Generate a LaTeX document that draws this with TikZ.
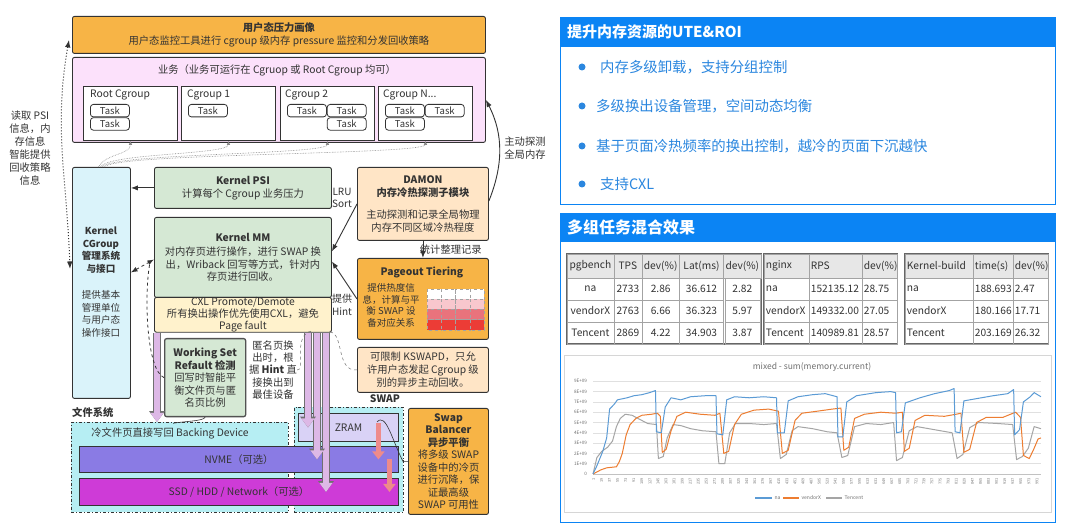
\documentclass[tikz,border=0pt]{standalone}
\usepackage{fontspec}
\setmainfont{Noto Sans CJK SC}
\usetikzlibrary{arrows.meta,positioning,calc,matrix}
\definecolor{ink}{HTML}{333333}
\definecolor{orng}{HTML}{F7B446}
\definecolor{biz}{HTML}{FCE1FB}
\definecolor{cgcyan}{HTML}{DAF3FA}
\definecolor{kgreen}{HTML}{D5E8D4}
\definecolor{cxl}{HTML}{FFF2CC}
\definecolor{peach}{HTML}{FFE5C6}
\definecolor{fscyan}{HTML}{B6EEF3}
\definecolor{nvme}{HTML}{8A7BE4}
\definecolor{ssd}{HTML}{CE3BD7}
\definecolor{zram}{HTML}{D9D2F6}
\definecolor{lav}{HTML}{DDB8E6}
\definecolor{salmon}{HTML}{EE8B8B}
\definecolor{heatlo}{HTML}{F8C7CD}
\definecolor{heatmid}{HTML}{E9737C}
\definecolor{heathi}{HTML}{EC3C36}
\definecolor{hdblue}{HTML}{0B84F4}
\definecolor{txblue}{HTML}{2B87DF}
\definecolor{thgray}{HTML}{E7E7E7}
\definecolor{serna}{HTML}{5B9BD5}
\definecolor{servx}{HTML}{ED7D31}
\definecolor{sertc}{HTML}{A5A5A5}
\newcommand{\fsz}[2]{\fontsize{#1}{#2}\selectfont}
\tikzset{
  >=Latex,
  every node/.style={font=\fsz{10.3}{13},text=ink,inner sep=0pt},
  box/.style={draw=ink,line width=0.9pt,rounded corners=2pt,anchor=north west,align=center},
  orngbox/.style={box,fill=orng},
  peachbox/.style={box,fill=peach},
  greenbox/.style={box,fill=kgreen},
  grpbox/.style={draw=ink,line width=0.9pt,fill=white,anchor=north west,minimum width=94,minimum height=54},
  taskbox/.style={draw=ink,line width=0.8pt,rounded corners=3pt,fill=white,anchor=north west,minimum width=39,minimum height=12.5,font=\fsz{9.5}{10}},
  devbox/.style={draw=ink,line width=0.9pt,anchor=north west,minimum width=319},
  dashbox/.style={draw=ink,line width=0.9pt,dash dot,fill=fscyan,anchor=north west},
  txt/.style={align=center},
  arrow/.style={->,line width=0.9pt,draw=ink},
  dasharr/.style={line width=0.8pt,draw=ink,dashed},
  thindash/.style={line width=0.5pt,draw=ink!70,dashed},
  dotarr/.style={<->,line width=1pt,draw=ink,dotted},
  taskdot/.style={-{Latex[length=4pt,width=3.5pt]},line width=0.6pt,draw=ink!60,densely dotted},
  fatarr/.style={draw=lav,line width=6.4pt,-{Triangle[length=9pt,width=12.5pt]},
    preaction={draw=ink!70,line width=8pt,-{Triangle[length=10.8pt,width=15pt]}}},
  sinkarr/.style={draw=salmon,line width=5pt,-{Triangle[length=8pt,width=12pt]}},
  hdbox/.style={draw=hdblue,fill=hdblue,line width=1.2pt,anchor=north west,minimum width=495},
  panel/.style={draw=hdblue,fill=white,line width=1.2pt,anchor=north west,minimum width=495},
  hdtext/.style={anchor=west,text=white,font=\fsz{15}{16}\bfseries},
  bul/.style={circle,fill=txblue,minimum size=7},
  bultext/.style={anchor=west,text=txblue,font=\fsz{14.4}{16}},
  cell/.style={draw=ink!45,line width=0.5pt,minimum height=22,inner xsep=2pt,font=\fsz{10.2}{12},anchor=center},
  tbl/.style={matrix of nodes,anchor=north west,draw=ink!75,line width=1.3pt,inner sep=0pt,
    column sep=-0.5pt,row sep=-0.5pt,nodes={cell},
    row 1/.style={nodes={fill=thgray,minimum height=24}}},
  lcol/.style={nodes={text width=#1,align=left}},
  ylab/.style={anchor=east,font=\fsz{4.6}{5},text=ink!70},
  xlab/.style={rotate=90,anchor=east,font=\fsz{3.8}{4},text=ink!70},
  lgd/.style={font=\fsz{5}{6},text=ink!70},
}
\begin{document}
\begin{tikzpicture}[x=1pt,y=-1pt]
\fill[white] (0,0) rectangle (1080,526);
\useasboundingbox (0,0) rectangle (1080,526);

% user space
\node[orngbox,minimum width=413,minimum height=37] (portrait) at (72,16) {\textbf{用户态压力画像}\\用户态监控工具进行 cgroup 级内存 pressure 监控和分发回收策略};
\node[box,fill=biz,minimum width=413,minimum height=85] (biz) at (72,57) {};
\node[txt] (biztitle) at (277,70) {业务（业务可运行在 Cgruop 或 Root Cgroup 均可）};

\node[grpbox] (root) at (83,86) {};
\node[grpbox] (cg1) at (181,86) {};
\node[grpbox] (cg2) at (280,86) {};
\node[grpbox] (cgn) at (378,86) {};
\node[below right=4pt and 7pt of root.north west] (rootlbl) {Root Cgroup};
\node[below right=4pt and 6pt of cg1.north west] (cg1lbl) {Cgroup 1};
\node[below right=4pt and 5pt of cg2.north west] (cg2lbl) {Cgroup 2};
\node[below right=4pt and 5pt of cgn.north west] (cgnlbl) {Cgroup N...};

\node[taskbox] (rt1) at (90,104) {Task};
\node[taskbox,below=0pt of rt1] (rt2) {Task};
\node[taskbox] (c1t1) at (188,104) {Task};
\node[taskbox] (c2t1) at (287,104) {Task};
\node[taskbox,right=0pt of c2t1] (c2t2) {Task};
\node[taskbox,below=0pt of c2t2] (c2t3) {Task};
\node[taskbox] (cnt1) at (385,104) {Task};
\node[taskbox,right=0pt of cnt1] (cnt2) {Task};
\node[taskbox,below=0pt of cnt1] (cnt3) {Task};

% kernel side
\node[box,fill=cgcyan,minimum width=58,minimum height=231] (cgsys) at (72,167) {};
\node[txt,font=\fsz{9.6}{12.5}\bfseries] (cgtitle) at (101,250) {Kernel\\CGroup\\管理系统\\与接口};
\node[txt,font=\fsz{9.6}{12.6}] (cgnote) at (101,314) {提供基本\\管理单位\\与用户态\\操作接口};

\node[greenbox,minimum width=177,minimum height=41] (psi) at (154,167) {\textbf{Kernel PSI}\\计算每个 Cgroup 业务压力};
\node[greenbox,minimum width=177,minimum height=80,font=\fsz{10.3}{12.5}] (mm) at (154,217) {\textbf{Kernel MM}\\[2pt]对内存页进行操作，进行 SWAP 换\\出，Wriback 回写等方式，针对内\\存页进行回收。};
\node[box,fill=cxl,minimum width=177,minimum height=33,font=\fsz{10.3}{12}] (cxl) at (154,297) {CXL Promote/Demote\\所有换出操作优先使用CXL，避免\\Page fault};

\node[peachbox,minimum width=131,minimum height=73] (damon) at (357,167) {\textbf{DAMON}\\\textbf{内存冷热探测子模块}\\[9pt]主动探测和记录全局物理\\内存不同区域冷热程度};
\node[orngbox,minimum width=131,minimum height=81] (pageout) at (357,258) {};
\node[font=\fsz{10.3}{12}\bfseries] (pgtitle) at (422,272) {Pageout Tiering};
\node[txt,font=\fsz{9.5}{11.7}] (pgnote) at (391,305.5) {提供热度信\\息，计算与平\\衡 SWAP 设\\备对应关系};
\foreach \r/\c in {0/white,1/heatlo,2/heatmid,3/heathi}
  \foreach \k in {0,...,3}
    \draw[fill=\c,draw=ink!45,dashed,line width=0.5pt] ({427+14.25*\k},{289+10.25*\r}) rectangle ++(14.25,10.25);
\node[peachbox,minimum width=131,minimum height=45,font=\fsz{10.3}{13}] (kswapd) at (357,347) {可限制 KSWAPD，只允\\许用户态发起 Cgroup 级\\别的异步主动回收。};

\node[txt] (psiread) at (30,148) {读取 PSI\\信息，内\\存信息\\智能提供\\回收策略\\信息};
\node[txt,font=\fsz{10}{12.5}] (lru) at (342,198) {LRU\\Sort};
\node[txt,font=\fsz{10}{13}] (hintlbl) at (342,305) {提供\\Hint};
\node[txt] (probe) at (525,148) {主动探测\\全局内存};

% devices
\node[anchor=west,font=\fsz{10.3}{12}\bfseries] (fslbl) at (72,413) {文件系统};
\node[dashbox,minimum width=217,minimum height=90] (fs) at (71,422) {};
\node[dashbox,minimum width=109,minimum height=105] (swap) at (294,407) {};
\node[font=\fsz{10.3}{12}\bfseries] (swaplbl) at (385,399) {SWAP};
\node (fstext) at (170,433) {冷文件页直接写回 Backing Device};
\node[devbox,fill=nvme,minimum height=26] (nvme) at (79,446) {NVME（可选）};
\node[devbox,fill=ssd,minimum height=27] (ssd) at (79,478) {SSD / HDD / Network（可选）};
\node[draw=ink,line width=0.9pt,fill=zram,anchor=north west,minimum width=100,minimum height=28] (zram) at (298,413) {ZRAM};

\node[greenbox,line width=1.3pt,draw=ink!85,minimum width=81,minimum height=78,font=\fsz{10.3}{12.5}] (ws) at (164,338) {\textbf{Working Set}\\\textbf{Refault 检测}\\回写时智能平\\衡文件页与匿\\名页比例};
\node[txt,font=\fsz{10.3}{12.3}] (hint) at (273,370) {匿名页换\\出时，根\\据 \textbf{Hint} 直\\接换出到\\最佳设备};
\node[orngbox,minimum width=80,minimum height=106,font=\fsz{10.3}{12.5}] (balancer) at (408,408) {\textbf{Swap}\\\textbf{Balancer}\\\textbf{异步平衡}\\将多级 SWAP\\设备中的冷页\\进行沉降，保\\证最高级\\SWAP 可用性};

% connectors
\draw[fatarr] (157,0 |- cxl.south) -- (157,0 |- fs.north);
\draw[fatarr] (326,0 |- cxl.south) -- (326,0 |- ssd.center);
\draw[fatarr] (317,0 |- cxl.south) -- (317,0 |- nvme.center);
\draw[fatarr] (308,0 |- cxl.south) -- (308,0 |- zram.center);
\draw[sinkarr] ($(zram.north)+(30,10)$) -- ($(nvme.center)+(139.5,0)$);
\draw[sinkarr] ($(nvme.north)+(150.5,13)$) -- ($(ssd.center)+(150.5,0)$);
\draw[line width=0.6pt,ink] (balancer.west) -- ++(-5,0) .. controls (392,440) and (386,412) .. (377,422);
\draw[line width=0.6pt,ink] (ws.south) .. controls +(-2,4) and +(10,-2) .. ($(ws.south)+(-32,6)$);

\draw[arrow] (psi.west) -- (psi.west -| cgsys.east);
\draw[arrow] (damon.west) -- ([yshift=6pt]mm.east);
\draw[arrow] (pageout.west) -- ([yshift=-4pt]mm.east);
\draw[arrow] (damon) -- node[anchor=west,xshift=-3.5pt] (stat) {统计整理记录} (pageout);
\draw[arrow] ([yshift=3pt]damon.east) .. controls +(14,-35) and +(18,35) .. (biz.east);

\draw[dotarr] ([xshift=-3pt,yshift=-5pt]portrait.west) to[out=-100,in=92] ([xshift=-2pt,yshift=14pt]cgsys.west);
\foreach \g/\dx in {root/-3,cg1/-1,cg2/1,cgn/3}
  \draw[taskdot] ([xshift=\dx pt]cgsys.north) .. controls +(8,-14) and +(0,14) .. (\g.south);
\draw[dasharr,<->] ([yshift=10.5pt]cgsys.east) -- ([yshift=-2pt]mm.west);
\draw[dasharr] (ws.west) .. controls +(-18,-8) and +(-6,30) .. ([xshift=-4pt,yshift=-5pt]mm.west);
\draw[thindash] (hint.east) .. controls (306,372) and (292,334) .. (312,331);
\draw[thindash] (kswapd.west) .. controls (336,372) and (344,333) .. (330,332);

% right panels
\node[panel,minimum height=158] (uteb) at (560,46) {};
\node[hdbox,minimum height=29] (uteh) at (560,17) {};
\node[hdtext] (utetitle) at (567,31.5) {提升内存资源的UTE\&ROI};
\node[bul] (d1) at (582,67) {};
\node[bultext] (t1) at (600,67) {内存多级卸载，支持分组控制};
\node[bul] (d2) at (582,106) {};
\node[bultext] (t2) at (596,106) {多级换出设备管理，空间动态均衡};
\node[bul] (d3) at (582,146) {};
\node[bultext] (t3) at (596,146) {基于页面冷热频率的换出控制，越冷的页面下沉越快};
\node[bul] (d4) at (582,184) {};
\node[bultext] (t4) at (600,184) {支持CXL};

\node[panel,minimum height=281] (mixb) at (560,241) {};
\node[hdbox,minimum height=28] (mixh) at (560,213) {};
\node[hdtext,font=\fsz{16}{18}\bfseries] (mixtitle) at (567,227) {多组任务混合效果};

\matrix[tbl,column 1/.style={nodes={minimum width=47}},column 2/.style={nodes={minimum width=28}},
  column 3/.style={nodes={minimum width=37}},column 4/.style={nodes={minimum width=44}},
  column 5/.style={nodes={minimum width=35}}] (pg) at (566,253) {
pgbench & TPS & dev(\%) & Lat(ms) & dev(\%) \\
na & 2733 & 2.86 & 36.612 & 2.82 \\
vendorX & 2763 & 6.66 & 36.323 & 5.97 \\
Tencent & 2869 & 4.22 & 34.903 & 3.87 \\
};
\matrix[tbl,column 1/.style={lcol=41},column 2/.style={lcol=49},column 3/.style={lcol=31}] (ngx) at (763,253) {
nginx & RPS & dev(\%) \\
na & 152135.12 & 28.75 \\
vendorX & 149332.00 & 27.05 \\
Tencent & 140989.81 & 28.57 \\
};
\matrix[tbl,column 1/.style={lcol=64},column 2/.style={lcol=36},column 3/.style={lcol=31}] (kb) at (904,253) {
Kernel-build & time(s) & dev(\%) \\
na & 188.693 & 2.47 \\
vendorX & 180.166 & 17.71 \\
Tencent & 203.169 & 26.32 \\
};

% memory chart
\node[draw=ink!20,line width=0.6pt,anchor=north west,minimum width=487,minimum height=157] (chart) at (564,355) {};
\node[text=ink!70,font=\fsz{8.5}{10}] (charttitle) at (812,367) {mixed - sum(memory.current)};
\begin{scope}[shift={(593,474)},x=0.976pt,y=10.3pt]
\foreach \v in {1,...,9} {
  \draw[ink!15,line width=0.4pt] (0,\v) -- (459,\v);
  \node[ylab] (ytick\v) at (-6,\v) {\v E+09};
}
\draw[ink!30,line width=0.5pt] (0,0) -- (459,0);
\node[ylab] (ytick0) at (-6,0) {0};
\foreach \k in {0,...,55} {
  \pgfmathtruncatemacro\lab{1+18*\k}
  \node[xlab] (xt\k) at ({\lab*0.459},-0.4) {\lab};
}
\draw[sertc,line width=1pt,line join=round] plot coordinates {(0,0) (4,1.6) (9,2.2) (15,2.6) (20,3.2) (24,4.6) (28,5.4) (33,5.8) (40,5.7) (48,5.3) (56,4.9) (65,4.8) (67,1.5) (72,1.7) (76,3.5) (82,4.8) (90,4.7) (100,4.4) (112,4.2) (126,4.1) (129,1) (135,1) (140,4) (146,4.9) (160,4.9) (175,4.8) (188,4.9) (192,1.5) (198,1.9) (204,4.2) (210,4.6) (225,4.4) (240,4.1) (250,4) (255,1.6) (261,1.8) (268,4.6) (280,4.9) (295,4.8) (308,5) (311,1.3) (317,1.6) (324,4.2) (332,4.6) (350,4.3) (368,4) (373,1.5) (379,1.9) (386,4.5) (395,5) (415,4.9) (430,4.8) (434,1.4) (440,1.7) (446,2.5) (452,4.6) (459,4.4)};
\draw[servx,line width=1pt,line join=round] plot coordinates {(0,0) (8,0.4) (14,0.6) (24,0.7) (27,1.2) (30,2) (34,3.8) (38,4.8) (44,5.4) (50,5.7) (60,5.8) (66,5.9) (69,5.6) (71,2.1) (75,2.4) (80,4.2) (86,5.6) (95,6) (110,5.8) (125,5.7) (130,5.9) (134,2) (139,2.2) (145,4.8) (152,5.8) (165,6.2) (180,6.3) (190,6.1) (194,2) (200,2.3) (207,5.2) (214,5.9) (230,6.1) (245,6.3) (254,6.4) (257,2.3) (262,2.6) (268,5.4) (278,5.8) (295,6) (310,5.9) (317,6) (319,2.2) (324,2.5) (330,5.2) (340,5.7) (360,5.6) (372,5.8) (377,5.9) (380,2.1) (386,2.4) (393,5) (403,5.5) (420,5.5) (433,6) (438,5.5) (441,1.8) (447,1.5) (452,2.5) (456,3.4) (459,3.5)};
\draw[serna,line width=1pt,line join=round] plot coordinates {(0,0) (4,0.8) (10,2.2) (14,3.5) (17,6.3) (22,6.8) (25,7.2) (35,7.4) (42,7.6) (50,7.7) (58,7.9) (64,8.1) (65,4.1) (70,4) (74,6.5) (80,7.4) (90,7.2) (100,7.5) (115,7.6) (126,7.6) (127,3.9) (133,3.8) (137,7.2) (145,7.5) (160,7.4) (175,7.5) (188,7.4) (189,4) (196,4) (200,7.1) (210,7.5) (225,7.7) (238,7.8) (250,7.5) (251,3.6) (256,3.6) (260,7) (270,7.6) (290,7.9) (305,8) (310,7.9) (311,4) (316,4.1) (320,6.9) (335,7.4) (350,7.8) (365,8.1) (370,8.3) (371,4.1) (376,4) (380,7.1) (392,7.3) (410,7.6) (425,7.8) (431,8.2) (432,3.8) (437,4.3) (441,7) (448,7.5) (452,7.9) (459,7.5)};
\end{scope}
\draw[serna,line width=1.2pt] (755,498) -- (772,498) node[lgd,right=2pt] (lgna) {na};
\draw[servx,line width=1.2pt] (783,498) -- (799,498) node[lgd,right=2pt] (lgvx) {vendorX};
\draw[sertc,line width=1.2pt] (826,498) -- (842,498) node[lgd,right=2pt] (lgtc) {Tencent};

\end{tikzpicture}
\end{document}
